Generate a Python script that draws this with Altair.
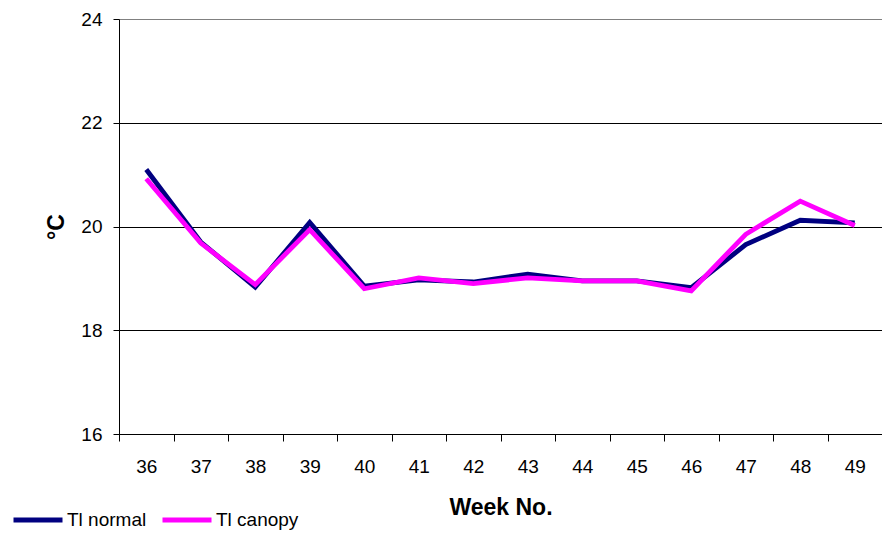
import altair as alt
import pandas as pd

weeks = [36, 37, 38, 39, 40, 41, 42, 43, 44, 45, 46, 47, 48, 49]
tl_normal = [21.10, 19.70, 18.83, 20.08, 18.85, 18.97, 18.93, 19.08, 18.95, 18.95, 18.82, 19.65, 20.12, 20.07]
tl_canopy = [20.92, 19.68, 18.88, 19.94, 18.80, 19.01, 18.90, 19.01, 18.95, 18.95, 18.76, 19.85, 20.49, 20.02]
series_names = ["Tl normal", "Tl canopy"]
series_colors = ["#000080", "#FF00FF"]
y_ticks = [16, 18, 20, 22, 24]

df_n = pd.DataFrame({"week": weeks, "value": tl_normal, "series": series_names[0]})
df_c = pd.DataFrame({"week": weeks, "value": tl_canopy, "series": series_names[1]})

FONT = "Liberation Sans"

color_scale = alt.Scale(domain=series_names, range=series_colors)

x_enc = alt.X(
    "week:O",
    scale=alt.Scale(paddingInner=0, paddingOuter=0),
    axis=alt.Axis(
        title="Week No.",
        labelAngle=0,
        labelFontSize=19,
        labelFont=FONT,
        labelColor="black",
        labelBaseline="alphabetic",
        labelPadding=31,
        tickBand="extent",
        tickSize=7,
        tickColor="black",
        domainColor="black",
        titleFont=FONT,
        titleFontSize=23,
        titleFontWeight="bold",
        titleColor="black",
        titleBaseline="alphabetic",
        titleY=80,
        grid=False,
    ),
)

y_enc = alt.Y(
    "value:Q",
    scale=alt.Scale(domain=[16, 24], nice=False, zero=False),
    axis=alt.Axis(
        title="°C",
        values=y_ticks,
        labelFontSize=19,
        labelFont=FONT,
        labelColor="black",
        labelPadding=11,
        tickSize=6,
        tickColor="black",
        domainColor="black",
        grid=True,
        gridColor=alt.condition("datum.value == 24", alt.value("#808080"), alt.value("black")),
        gridWidth=1,
        titleFont=FONT,
        titleFontSize=23,
        titleFontWeight="bold",
        titleColor="black",
        titleAngle=270,
        titleAlign="center",
        titleBaseline="middle",
        titleX=-63,
        titleY=207.5,
    ),
)

legend = alt.Legend(
    title=None,
    orient="none",
    direction="horizontal",
    legendX=-108,
    legendY=474,
    symbolType="stroke",
    symbolSize=2401,
    symbolStrokeWidth=5,
    labelFontSize=19,
    labelFont=FONT,
    labelColor="black",
    labelOffset=2,
    columnPadding=5,
    padding=0,
)

line_n = alt.Chart(df_n).mark_line(strokeWidth=4.8).encode(
    x=x_enc,
    y=y_enc,
    color=alt.Color("series:N", scale=color_scale, legend=legend),
)
line_c = alt.Chart(df_c).mark_line(strokeWidth=4.8).encode(
    x=x_enc,
    y=y_enc,
    color=alt.Color("series:N", scale=color_scale, legend=legend),
)

chart = (
    alt.layer(line_n, line_c)
    .properties(
        width=763,
        height=415,
        autosize=alt.AutoSizeParams(type="none"),
        padding={"left": 111, "top": 11, "right": 0, "bottom": 99},
    )
    .configure_view(stroke="#808080", strokeWidth=1)
    .configure(background="white")
)

chart.save("out.html", embed_options={"renderer": "svg", "actions": False})
